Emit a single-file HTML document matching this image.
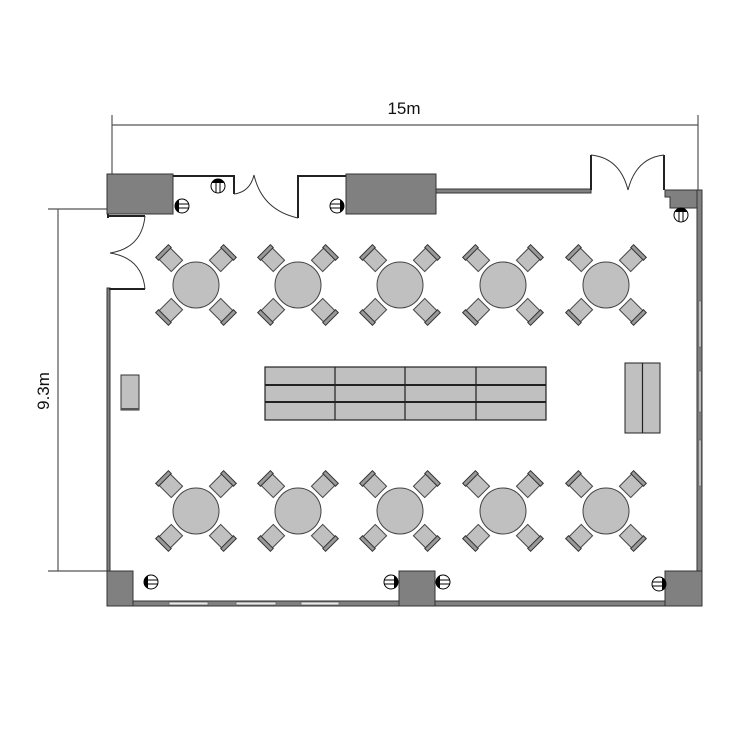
<!DOCTYPE html>
<html><head><meta charset="utf-8"><style>html,body{margin:0;padding:0;background:#fff}svg{display:block}</style></head>
<body>
<svg width="750" height="750" viewBox="0 0 750 750" xmlns="http://www.w3.org/2000/svg" font-family="Liberation Sans, sans-serif">
<defs>
<g id="chair">
  <rect x="-8" y="-47" width="16" height="20" fill="#c0c0c0" stroke="#444" stroke-width="1"/>
  <rect x="-9" y="-48" width="18" height="4" fill="#999" stroke="#333" stroke-width="1"/>
</g>
<g id="tbl">
  <use href="#chair" transform="rotate(-45)"/>
  <use href="#chair" transform="rotate(45)"/>
  <use href="#chair" transform="rotate(135)"/>
  <use href="#chair" transform="rotate(225)"/>
  <circle r="23" fill="#c0c0c0" stroke="#444" stroke-width="1"/>
</g>
<g id="colL">
  <circle r="7" fill="#fff" stroke="#000" stroke-width="1"/>
  <line x1="-5" y1="-2" x2="7" y2="-2" stroke="#000"/>
  <line x1="-5" y1="2" x2="7" y2="2" stroke="#000"/>
  <path d="M -3 -6.3 A 7 7 0 0 0 -3 6.3 Z" fill="#000"/>
</g>
</defs>

<!-- dimensions -->
<g stroke="#555" stroke-width="1.2" fill="none">
  <line x1="112" y1="115" x2="112" y2="188"/>
  <line x1="112" y1="125" x2="698" y2="125"/>
  <line x1="698" y1="115" x2="698" y2="190"/>
  <line x1="48" y1="209" x2="107" y2="209"/>
  <line x1="58" y1="209" x2="58" y2="571"/>
  <line x1="48" y1="571" x2="107" y2="571"/>
</g>
<text x="404" y="114" font-size="17" text-anchor="middle" fill="#111">15m</text>
<text transform="translate(49,391) rotate(-90)" font-size="17" text-anchor="middle" fill="#111">9.3m</text>

<!-- walls -->
<g fill="#808080" stroke="#333" stroke-width="1">
  <rect x="107" y="174" width="66" height="40"/>
  <rect x="346" y="174" width="90" height="40"/>
  <rect x="436" y="189" width="155" height="4"/>
  <path d="M665 190 H702 V208 H670 V197 H665 Z"/>
  <rect x="697" y="190" width="5" height="415"/>
  <rect x="107" y="288" width="3" height="317"/>
  <rect x="107" y="601" width="595" height="5"/>
  <rect x="107" y="571" width="26" height="35"/>
  <rect x="399" y="571" width="36" height="35"/>
  <rect x="665" y="571" width="37" height="35"/>
</g>
<!-- windows bottom -->
<g fill="#e8e8e8" stroke="#666" stroke-width="0.8">
  <rect x="169" y="602" width="39" height="3"/>
  <rect x="236" y="602" width="40" height="3"/>
  <rect x="301" y="602" width="38" height="3"/>
</g>
<!-- right wall windows -->
<g fill="#e0e0e0" stroke="#666" stroke-width="0.6">
  <rect x="699" y="301" width="2" height="46"/>
  <rect x="699" y="371" width="2" height="41"/>
  <rect x="699" y="440" width="2" height="46"/>
</g>

<!-- thin wall lines -->
<g stroke="#222" stroke-width="2" fill="none">
  <polyline points="173,176 234,176 234,194"/>
  <polyline points="346,176 298,176 298,218"/>
  <polyline points="591,190 591,155"/>
  <polyline points="664,155 664,190"/>
  <polyline points="109,216 145,216"/>
  <polyline points="109,289 145,289"/>
  <line x1="108" y1="214" x2="108" y2="218"/>
</g>
<!-- door arcs -->
<g stroke="#333" stroke-width="1" fill="none">
  <path d="M234 194 Q250 192 254 175"/>
  <path d="M254 175 Q262 210 298 218"/>
  <path d="M591 155 Q620 158 628 190"/>
  <path d="M664 155 Q636 158 628 190"/>
  <path d="M145 216 Q142 248 110 253"/>
  <path d="M110 253 Q142 258 145 289"/>
</g>

<!-- columns -->
<use href="#colL" transform="translate(182,206)"/>
<use href="#colL" transform="translate(218,186) rotate(90)"/>
<use href="#colL" transform="translate(337,206) rotate(180)"/>
<use href="#colL" transform="translate(681,215) rotate(90)"/>
<use href="#colL" transform="translate(151,582)"/>
<use href="#colL" transform="translate(391,582) rotate(180)"/>
<use href="#colL" transform="translate(443,582)"/>
<use href="#colL" transform="translate(659,584) rotate(180)"/>

<!-- tables -->
<use href="#tbl" transform="translate(196,285)"/>
<use href="#tbl" transform="translate(298,285)"/>
<use href="#tbl" transform="translate(400,285)"/>
<use href="#tbl" transform="translate(503,285)"/>
<use href="#tbl" transform="translate(606,285)"/>
<use href="#tbl" transform="translate(196,511)"/>
<use href="#tbl" transform="translate(298,511)"/>
<use href="#tbl" transform="translate(400,511)"/>
<use href="#tbl" transform="translate(503,511)"/>
<use href="#tbl" transform="translate(606,511)"/>

<!-- center table -->
<rect x="265" y="367" width="281" height="53" fill="#c0c0c0" stroke="#222" stroke-width="1.2"/>
<g stroke="#222" stroke-width="1.2">
  <line x1="265" y1="385" x2="546" y2="385" stroke-width="2"/>
  <line x1="265" y1="402" x2="546" y2="402" stroke-width="2"/>
  <line x1="335" y1="367" x2="335" y2="420"/>
  <line x1="405" y1="367" x2="405" y2="420"/>
  <line x1="476" y1="367" x2="476" y2="420"/>
</g>
<rect x="625" y="363" width="35" height="70" fill="#c0c0c0" stroke="#222" stroke-width="1"/>
<line x1="642.5" y1="363" x2="642.5" y2="433" stroke="#222" stroke-width="1.2"/>
<rect x="121" y="375" width="18" height="35" fill="#c0c0c0" stroke="#333" stroke-width="1"/>
<rect x="121" y="408" width="18" height="2" fill="#555"/>
</svg>
</body></html>
